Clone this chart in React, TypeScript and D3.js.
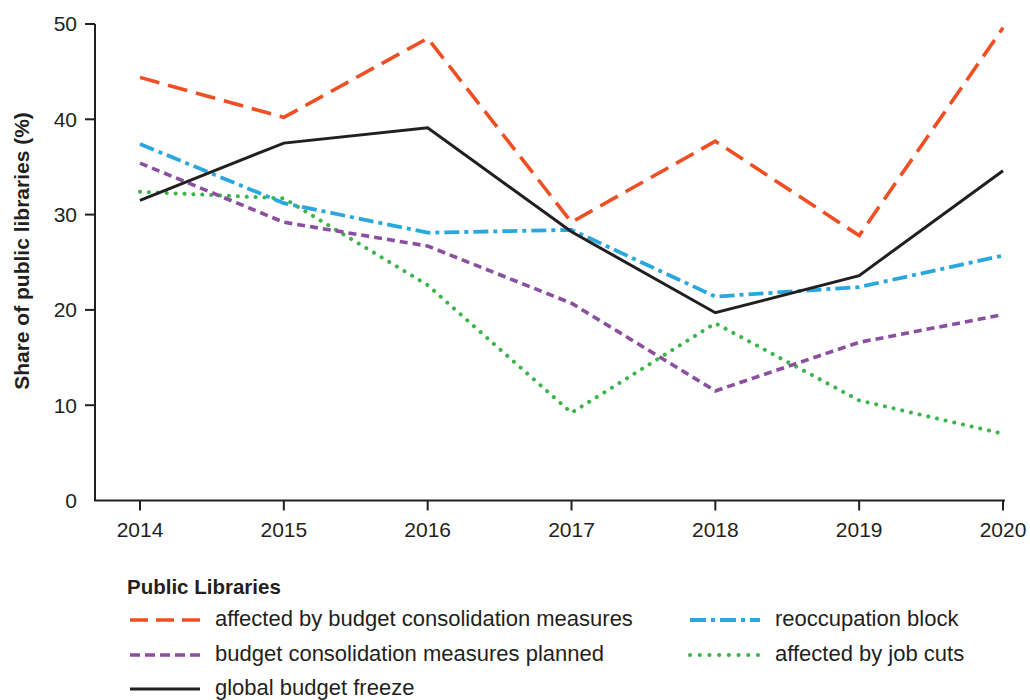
import React, { useEffect, useRef } from "react";
import * as d3 from "d3";

const years = [2014, 2015, 2016, 2017, 2018, 2019, 2020];
const yTicks = [0, 10, 20, 30, 40, 50];

const affectedConsolidation = [44.4, 40.2, 48.5, 29.2, 37.7, 27.8, 49.6];
const globalFreeze = [31.5, 37.5, 39.1, 28.2, 19.7, 23.6, 34.6];
const reoccupationBlock = [37.4, 31.2, 28.1, 28.4, 21.4, 22.4, 25.7];
const plannedConsolidation = [35.4, 29.2, 26.7, 20.7, 11.5, 16.6, 19.5];
const jobCuts = [32.4, 31.7, 22.6, 9.2, 18.6, 10.5, 7.0];

type Style = { color: string; width: number; dash: string; cap: string };

const styles: Record<string, Style> = {
  "affected by budget consolidation measures": { color: "#F04E23", width: 3.6, dash: "20,9", cap: "butt" },
  "reoccupation block": { color: "#29A8E0", width: 3.8, dash: "15,5,4,5", cap: "butt" },
  "budget consolidation measures planned": { color: "#8B4FA0", width: 3.6, dash: "8,5", cap: "butt" },
  "affected by job cuts": { color: "#3BB54A", width: 4, dash: "0.1,8.8", cap: "round" },
  "global budget freeze": { color: "#231F20", width: 3, dash: "", cap: "butt" },
};

const seriesValues: Record<string, number[]> = {
  "affected by budget consolidation measures": affectedConsolidation,
  "reoccupation block": reoccupationBlock,
  "budget consolidation measures planned": plannedConsolidation,
  "affected by job cuts": jobCuts,
  "global budget freeze": globalFreeze,
};

const drawOrder = [
  "affected by job cuts",
  "budget consolidation measures planned",
  "reoccupation block",
  "global budget freeze",
  "affected by budget consolidation measures",
];

const legendLayout = [
  { name: "affected by budget consolidation measures", col: 0, row: 0 },
  { name: "reoccupation block", col: 1, row: 0 },
  { name: "budget consolidation measures planned", col: 0, row: 1 },
  { name: "affected by job cuts", col: 1, row: 1 },
  { name: "global budget freeze", col: 0, row: 2 },
];

const legendDash: Record<string, string> = {
  "affected by budget consolidation measures": "18,8",
  "reoccupation block": "16,5,4,5",
  "budget consolidation measures planned": "10,5",
  "affected by job cuts": "0.1,9.6",
  "global budget freeze": "",
};

export default function App() {
  const ref = useRef<SVGSVGElement>(null);

  useEffect(() => {
    const svg = d3.select(ref.current);
    svg.selectAll("*").remove();
    const font = "'Liberation Sans', Arial, Helvetica, sans-serif";
    const textColor = "#231F20";

    const x = d3.scaleLinear().domain([2014, 2020]).range([140, 1003]);
    const y = d3.scaleLinear().domain([0, 50]).range([500.5, 24]);
    const axisLeft = 95;

    const g = svg.append("g");

    g.append("line")
      .attr("x1", axisLeft).attr("x2", axisLeft)
      .attr("y1", y(50)).attr("y2", y(0))
      .attr("stroke", textColor).attr("stroke-width", 2);
    g.append("line")
      .attr("x1", axisLeft - 1).attr("x2", 1005)
      .attr("y1", y(0)).attr("y2", y(0))
      .attr("stroke", textColor).attr("stroke-width", 2);

    yTicks.forEach((t) => {
      if (t !== 0) {
        g.append("line")
          .attr("x1", axisLeft - 10).attr("x2", axisLeft)
          .attr("y1", y(t)).attr("y2", y(t))
          .attr("stroke", textColor).attr("stroke-width", 2);
      }
      g.append("text")
        .attr("x", 77).attr("y", y(t))
        .attr("dy", "0.35em")
        .attr("text-anchor", "end")
        .attr("font-family", font).attr("font-size", 21)
        .attr("fill", textColor)
        .text(t);
    });

    years.forEach((yr) => {
      g.append("line")
        .attr("x1", x(yr)).attr("x2", x(yr))
        .attr("y1", y(0)).attr("y2", y(0) + 10)
        .attr("stroke", textColor).attr("stroke-width", 2);
      g.append("text")
        .attr("x", x(yr)).attr("y", 537)
        .attr("text-anchor", "middle")
        .attr("font-family", font).attr("font-size", 21)
        .attr("fill", textColor)
        .text(yr);
    });

    g.append("text")
      .attr("transform", `translate(29,251) rotate(-90)`)
      .attr("text-anchor", "middle")
      .attr("font-family", font).attr("font-size", 21)
      .attr("font-weight", "bold")
      .attr("fill", textColor)
      .text("Share of public libraries (%)");

    const line = d3.line<number>()
      .x((_, i) => x(years[i]))
      .y((d) => y(d));

    drawOrder.forEach((name) => {
      const s = styles[name];
      g.append("path")
        .attr("d", line(seriesValues[name]) as string)
        .attr("fill", "none")
        .attr("stroke", s.color)
        .attr("stroke-width", s.width)
        .attr("stroke-dasharray", s.dash || null)
        .attr("stroke-linecap", s.cap)
        .attr("stroke-linejoin", "miter");
    });

    g.append("text")
      .attr("x", 127).attr("y", 594)
      .attr("font-family", font).attr("font-size", 20.5)
      .attr("font-weight", "bold")
      .attr("fill", textColor)
      .text("Public Libraries");

    const colX = [130, 690];
    const rowY = [620, 655, 689];
    legendLayout.forEach((item) => {
      const s = styles[item.name];
      const lx = colX[item.col];
      const ly = rowY[item.row];
      g.append("line")
        .attr("x1", lx).attr("x2", lx + 70)
        .attr("y1", ly).attr("y2", ly)
        .attr("stroke", s.color)
        .attr("stroke-width", s.width)
        .attr("stroke-dasharray", legendDash[item.name] || null)
        .attr("stroke-linecap", s.cap);
      g.append("text")
        .attr("x", lx + 85).attr("y", ly)
        .attr("dy", "0.28em")
        .attr("font-family", font).attr("font-size", 22)
        .attr("fill", textColor)
        .text(item.name);
    });
  }, []);

  return (
    <svg
      ref={ref}
      width={1030}
      height={700}
      style={{ position: "absolute", left: 0, top: 0, background: "#fff" }}
    />
  );
}
